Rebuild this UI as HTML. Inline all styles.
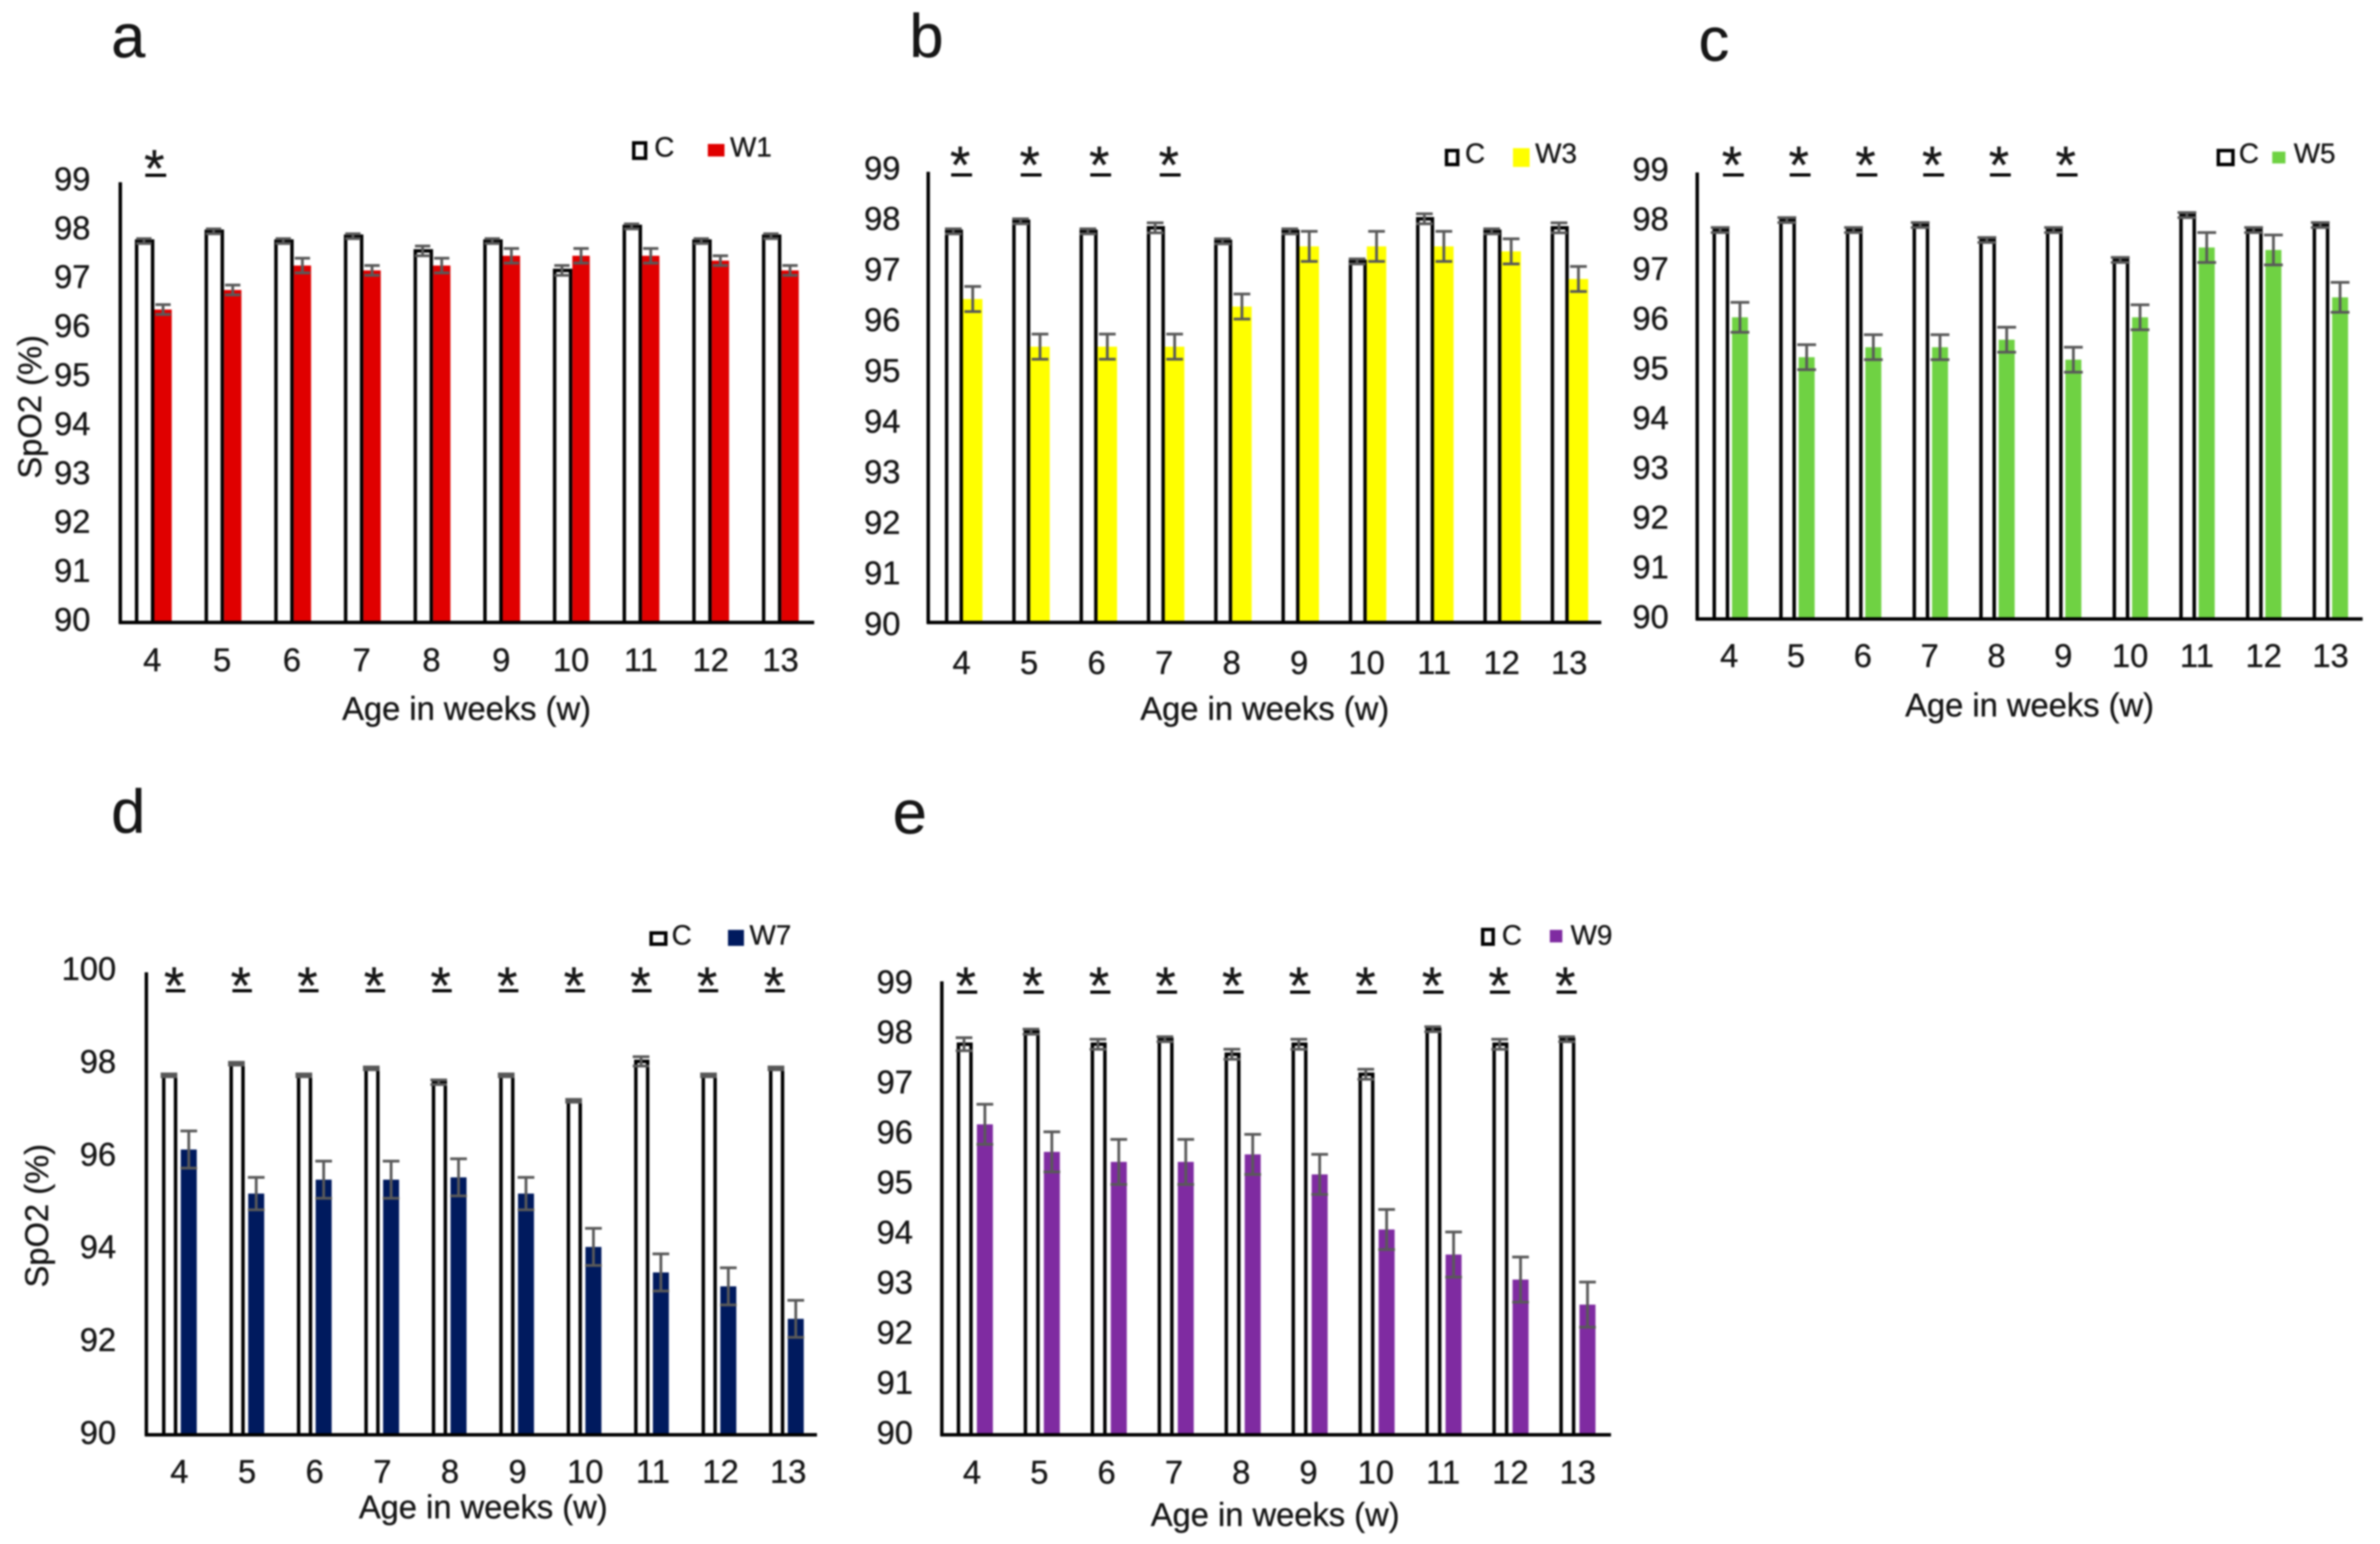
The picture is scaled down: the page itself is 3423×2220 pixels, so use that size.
<!DOCTYPE html>
<html lang="en">
<head>
<meta charset="utf-8">
<title>SpO2 by age in weeks</title>
<style>
  html, body { margin: 0; padding: 0; background: #fff; }
  #figure { display: block; width: 3423px; height: 2220px; filter: blur(1.2px); }
  text { font-family: "Liberation Sans", Arial, sans-serif; fill: #161616; stroke: #161616; stroke-width: 0.5px; }
</style>
</head>
<body>
<svg id="figure" xmlns="http://www.w3.org/2000/svg" width="3423" height="2220" viewBox="0 0 3423 2220">
  <rect x="0" y="0" width="3423" height="2220" fill="#ffffff"></rect>
</svg>
<script>
// ---------- chart data ----------
const weeks = [4, 5, 6, 7, 8, 9, 10, 11, 12, 13];

const ticksOneStep = [90, 91, 92, 93, 94, 95, 96, 97, 98, 99];
const ticksTwoStep = [90, 92, 94, 96, 98, 100];

const controlA = [97.8, 98.0, 97.8, 97.9, 97.6, 97.8, 97.2, 98.1, 97.8, 97.9];
const controlErrA = [0.05, 0.05, 0.05, 0.05, 0.1, 0.05, 0.1, 0.05, 0.05, 0.05];
const treatedA = [96.4, 96.8, 97.3, 97.2, 97.3, 97.5, 97.5, 97.5, 97.4, 97.2];
const treatedErrA = [0.1, 0.1, 0.15, 0.1, 0.15, 0.15, 0.15, 0.15, 0.1, 0.1];
const significantA = [4];

const controlB = [97.8, 98.0, 97.8, 97.87, 97.6, 97.8, 97.2, 98.05, 97.8, 97.87];
const controlErrB = [0.05, 0.05, 0.05, 0.1, 0.05, 0.05, 0.05, 0.1, 0.05, 0.1];
const treatedB = [96.45, 95.5, 95.5, 95.5, 96.3, 97.5, 97.5, 97.5, 97.4, 96.85];
const treatedErrB = [0.25, 0.25, 0.25, 0.25, 0.25, 0.3, 0.3, 0.3, 0.25, 0.25];
const significantB = [4, 5, 6, 7];

const controlC = [97.8, 98.0, 97.8, 97.9, 97.6, 97.8, 97.2, 98.1, 97.8, 97.9];
const controlErrC = [0.05, 0.05, 0.05, 0.05, 0.05, 0.05, 0.05, 0.05, 0.05, 0.05];
const treatedC = [96.05, 95.25, 95.45, 95.45, 95.6, 95.2, 96.05, 97.45, 97.4, 96.45];
const treatedErrC = [0.3, 0.25, 0.25, 0.25, 0.25, 0.25, 0.25, 0.3, 0.3, 0.3];
const significantC = [4, 5, 6, 7, 8, 9];

const controlD = [97.75, 98.0, 97.75, 97.9, 97.6, 97.75, 97.2, 98.05, 97.75, 97.9];
const controlErrD = [0.03, 0.03, 0.03, 0.03, 0.05, 0.03, 0.03, 0.1, 0.03, 0.03];
const treatedD = [96.15, 95.2, 95.5, 95.5, 95.55, 95.2, 94.05, 93.5, 93.2, 92.5];
const treatedErrD = [0.4, 0.35, 0.4, 0.4, 0.4, 0.35, 0.4, 0.4, 0.4, 0.4];
const significantD = [4, 5, 6, 7, 8, 9, 10, 11, 12, 13];

const controlE = [97.8, 98.05, 97.8, 97.9, 97.6, 97.8, 97.2, 98.1, 97.8, 97.9];
const controlErrE = [0.13, 0.05, 0.1, 0.05, 0.1, 0.1, 0.1, 0.05, 0.1, 0.05];
const treatedE = [96.2, 95.65, 95.45, 95.45, 95.6, 95.2, 94.1, 93.6, 93.1, 92.6];
const treatedErrE = [0.4, 0.4, 0.45, 0.45, 0.4, 0.4, 0.4, 0.45, 0.45, 0.45];
const significantE = [4, 5, 6, 7, 8, 9, 10, 11, 12, 13];

// ---------- panel layouts (geometry only) ----------
const panelA = {
  id: 'a', series: 'W1', color: '#e00000',
  control: controlA, controlErr: controlErrA, treated: treatedA, treatedErr: treatedErrA, significant: significantA,
  ticks: ticksOneStep,
  letterX: 160, letterY: 82,
  axisX: 173, axisTop: 262, baseY: 895, axisRight: 1171, unit: 70.3, tickUnit: 70.4,
  groupX: 194, groupStep: 100.2, cW: 28, gap: 0, tW: 25, capW: 22,
  tickRight: 130, tickShift: 12,
  xLabelX: 219, xLabelStep: 100.4, xLabelY: 965,
  xTitleX: 671, xTitleY: 1035,
  yTitleX: 59, yTitleY: 585,
  starX: 224, starStep: 100, starY: 228, ruleY: 252, ruleW: 30,
  box: [909, 203, 22, 27], cText: [941, 225], swatch: [1018, 207, 24, 18], wText: [1050, 225]
};
const panelB = {
  id: 'b', series: 'W3', color: '#ffff00',
  control: controlB, controlErr: controlErrB, treated: treatedB, treatedErr: treatedErrB, significant: significantB,
  ticks: ticksOneStep,
  letterX: 1308, letterY: 82,
  axisX: 1335, axisTop: 247, baseY: 895, axisRight: 2303, unit: 72.1, tickUnit: 72.8,
  groupX: 1359, groupStep: 96.8, cW: 26, gap: 0, tW: 28, capW: 24,
  tickRight: 1295, tickShift: 18,
  xLabelX: 1383, xLabelStep: 97.1, xLabelY: 969,
  xTitleX: 1819, xTitleY: 1035,
  yTitleX: null, yTitleY: null,
  starX: 1383, starStep: 100, starY: 223, ruleY: 251.5, ruleW: 30,
  box: [2078, 214, 21, 25], cText: [2107, 234], swatch: [2176, 213, 24, 27], wText: [2208, 234]
};
const panelC = {
  id: 'c', series: 'W5', color: '#6fd243',
  control: controlC, controlErr: controlErrC, treated: treatedC, treatedErr: treatedErrC, significant: significantC,
  ticks: ticksOneStep,
  letterX: 2443, letterY: 87,
  axisX: 2441, axisTop: 248, baseY: 890, axisRight: 3398, unit: 71.7, tickUnit: 71.5,
  groupX: 2463, groupStep: 95.9, cW: 24, gap: 4, tW: 23, capW: 27,
  tickRight: 2400, tickShift: 13,
  xLabelX: 2487, xLabelStep: 96.1, xLabelY: 959,
  xTitleX: 2919, xTitleY: 1030,
  yTitleX: null, yTitleY: null,
  starX: 2493, starStep: 96, starY: 223, ruleY: 251.5, ruleW: 30,
  box: [3188, 214, 26, 25], cText: [3220, 234], swatch: [3268, 218, 19, 17], wText: [3299, 234]
};
const panelD = {
  id: 'd', series: 'W7', color: '#001a5e',
  control: controlD, controlErr: controlErrD, treated: treatedD, treatedErr: treatedErrD, significant: significantD,
  ticks: ticksTwoStep,
  letterX: 160, letterY: 1197,
  axisX: 210.5, axisTop: 1398, baseY: 2063, axisRight: 1175, unit: 66.7, tickUnit: 66.7,
  groupX: 233, groupStep: 97, cW: 22, gap: 5, tW: 23, capW: 24,
  tickRight: 167, tickShift: 13,
  xLabelX: 258, xLabelStep: 97.3, xLabelY: 2132,
  xTitleX: 695, xTitleY: 2183,
  yTitleX: 69, yTitleY: 1748,
  starX: 252.5, starStep: 95.8, starY: 1403, ruleY: 1424.5, ruleW: 28,
  box: [934, 1339, 26, 21], cText: [966, 1358], swatch: [1047, 1337, 23, 23], wText: [1078, 1358]
};
const panelE = {
  id: 'e', series: 'W9', color: '#7f2ba1',
  control: controlE, controlErr: controlErrE, treated: treatedE, treatedErr: treatedErrE, significant: significantE,
  ticks: ticksOneStep,
  letterX: 1284, letterY: 1198,
  axisX: 1354.6, axisTop: 1411, baseY: 2063, axisRight: 2317, unit: 72, tickUnit: 72,
  groupX: 1376, groupStep: 96.3, cW: 23, gap: 6, tW: 23, capW: 24,
  tickRight: 1313, tickShift: 13,
  xLabelX: 1398, xLabelStep: 96.8, xLabelY: 2133,
  xTitleX: 1834, xTitleY: 2194,
  yTitleX: null, yTitleY: null,
  starX: 1391, starStep: 95.8, starY: 1403, ruleY: 1426.5, ruleW: 29,
  box: [2130, 1334, 20, 26], cText: [2160, 1358], swatch: [2229, 1337, 18, 18], wText: [2259, 1358]
};

const panels = [panelA, panelB, panelC, panelD, panelE];

// ---------- drawing ----------
const SVG_NS = 'http://www.w3.org/2000/svg';
const figure = document.getElementById('figure');

function make(parent, tag, attrs, content) {
  const el = document.createElementNS(SVG_NS, tag);
  Object.keys(attrs).forEach(function (k) { el.setAttribute(k, attrs[k]); });
  if (content !== undefined) el.textContent = content;
  parent.appendChild(el);
  return el;
}

function line(parent, x1, y1, x2, y2, stroke, width) {
  return make(parent, 'line', { x1: x1, y1: y1, x2: x2, y2: y2, stroke: stroke, 'stroke-width': width });
}

function errorBar(parent, cx, value, err, yScale, capW) {
  const g = make(parent, 'g', {});
  const top = yScale(value + err);
  const bottom = yScale(value - err);
  line(g, cx, top, cx, bottom, '#595959', 4);
  line(g, cx - capW / 2, top, cx + capW / 2, top, '#595959', 4);
  line(g, cx - capW / 2, bottom, cx + capW / 2, bottom, '#595959', 4);
  return g;
}

function drawPanel(p) {
  const yBase = p.ticks[0];
  const yScale = function (v) { return p.baseY - (v - yBase) * p.unit; };
  const tickScale = function (v) { return p.baseY - (v - yBase) * p.tickUnit; };
  const groupLeft = function (i) { return p.groupX + i * p.groupStep; };

  const root = make(figure, 'g', {});
  
  

  const letter = make(root, 'text', { x: p.letterX, y: p.letterY, 'font-size': 88 }, p.id);
  
  

  // bars
  p.control.forEach(function (v, i) {
    const left = groupLeft(i);
    const top = yScale(v);
    const bar = make(root, 'rect', {
      x: left + 2.5, y: top, width: p.cW - 5, height: p.baseY - top,
      fill: '#ffffff', stroke: '#000000', 'stroke-width': 5
    });
    
    
  });
  p.treated.forEach(function (v, i) {
    const left = groupLeft(i) + p.cW + p.gap;
    const top = yScale(v);
    const bar = make(root, 'rect', {
      x: left, y: top, width: p.tW, height: p.baseY - top, fill: p.color
    });
    
    
  });

  // error bars
  p.control.forEach(function (v, i) {
    const eb = errorBar(root, groupLeft(i) + p.cW / 2 - 1, v, p.controlErr[i], yScale, p.capW);
    
    
  });
  p.treated.forEach(function (v, i) {
    const eb = errorBar(root, groupLeft(i) + p.cW + p.gap + p.tW / 2, v, p.treatedErr[i], yScale, p.capW);
    
    
  });

  // axes
  const yAxis = line(root, p.axisX, p.axisTop, p.axisX, p.baseY + 2, '#000000', 5);
  
  
  const xAxis = line(root, p.axisX - 2, p.baseY, p.axisRight, p.baseY, '#000000', 5);
  
  

  // tick labels
  p.ticks.forEach(function (t) {
    const label = make(root, 'text', {
      x: p.tickRight, y: tickScale(t) + p.tickShift, 'font-size': 47, 'text-anchor': 'end'
    }, String(t));
    
    
  });
  weeks.forEach(function (w, i) {
    const label = make(root, 'text', {
      x: p.xLabelX + i * p.xLabelStep, y: p.xLabelY, 'font-size': 47, 'text-anchor': 'middle'
    }, String(w));
    
    
  });

  // titles
  const xTitle = make(root, 'text', {
    x: p.xTitleX, y: p.xTitleY, 'font-size': 47, 'text-anchor': 'middle'
  }, 'Age in weeks (w)');
  
  

  if (p.yTitleX !== null) {
    const yTitle = make(root, 'text', {
      x: 0, y: 0, 'font-size': 47, 'text-anchor': 'middle',
      transform: 'translate(' + p.yTitleX + ',' + p.yTitleY + ') rotate(-90)'
    }, 'SpO2 (%)');
    
    
  }

  // significance marks
  p.significant.forEach(function (w) {
    const i = weeks.indexOf(w);
    const cx = p.starX + i * p.starStep;
    const star = make(root, 'text', {
      x: cx - 2, y: p.starY + 40, 'font-size': 75, 'text-anchor': 'middle'
    }, '*');
    
    
    const rule = line(root, cx - p.ruleW / 2, p.ruleY, cx + p.ruleW / 2, p.ruleY, '#000000', 4.5);
    
    
  });

  // legend
  const legend = make(root, 'g', {});
  
  
  const boxEl = make(legend, 'rect', {
    x: p.box[0] + 2.5, y: p.box[1] + 2.5, width: p.box[2] - 5, height: p.box[3] - 5,
    fill: '#ffffff', stroke: '#000000', 'stroke-width': 5
  });
  
  
  const cLabel = make(legend, 'text', { x: p.cText[0], y: p.cText[1], 'font-size': 40 }, 'C');
  
  
  const swatchEl = make(legend, 'rect', {
    x: p.swatch[0], y: p.swatch[1], width: p.swatch[2], height: p.swatch[3], fill: p.color
  });
  
  
  const wLabel = make(legend, 'text', { x: p.wText[0], y: p.wText[1], 'font-size': 40 }, p.series);
  
  
}

panels.forEach(drawPanel);
</script>
</body>
</html>
